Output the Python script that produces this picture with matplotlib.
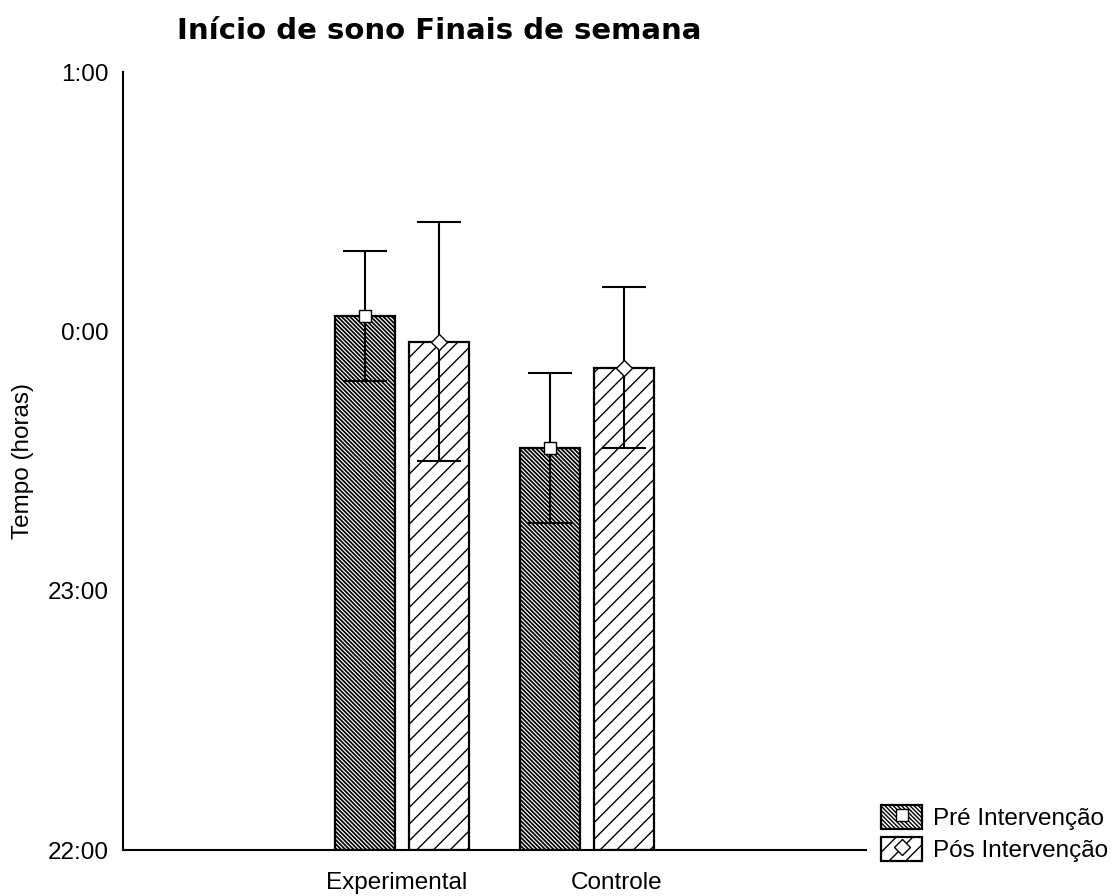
import matplotlib
matplotlib.use("Agg")
import matplotlib.pyplot as plt
from matplotlib.ticker import FuncFormatter

# Sleep onset on weekends (clock hours; 24 = midnight)
groups = ["Experimental", "Controle"]
series = ["Pré Intervenção", "Pós Intervenção"]
pre_mean = [24.06, 23.55]
pre_sd = [0.25, 0.29]
pos_mean = [23.96, 23.86]
pos_sd = [0.46, 0.31]
y_ticks = [22, 23, 24, 25]

plt.rcParams["font.family"] = ["Liberation Sans", "DejaVu Sans"]
plt.rcParams["hatch.linewidth"] = 1.0
plt.rcParams["hatch.color"] = "black"

FS = 17.5
W, H = 1118, 896
fig = plt.figure(figsize=(W / 100, H / 100), dpi=100)
ax = fig.add_axes([123 / W, 1 - 850 / H, (866 - 123) / W, (850 - 72) / H])

base = y_ticks[0]
xpos = [1, 2]
off = 0.199
bw = 0.323
x_pre = [x - off for x in xpos]
x_pos = [x + off for x in xpos]

with plt.rc_context({"hatch.linewidth": 1.25}):
    bars_pre = ax.bar(x_pre, [m - base for m in pre_mean], bottom=base, width=bw,
                      color="white", edgecolor="black", linewidth=1.6,
                      hatch="\\\\\\\\\\\\\\\\", zorder=2)
bars_pos = ax.bar(x_pos, [m - base for m in pos_mean], bottom=base, width=bw,
                  color="white", edgecolor="black", linewidth=1.6,
                  hatch="//", zorder=2)

for xs, m, s in [(x_pre, pre_mean, pre_sd), (x_pos, pos_mean, pos_sd)]:
    ax.errorbar(xs, m, yerr=s, fmt="none", ecolor="black", elinewidth=1.5,
                capsize=15.5, capthick=1.5, zorder=3)

mk_pre, = ax.plot(x_pre, pre_mean, ls="none", marker="s", ms=8, mfc="white",
                  mec="black", mew=1.0, zorder=4)
mk_pos, = ax.plot(x_pos, pos_mean, ls="none", marker="D", ms=8, mfc="white",
                  mec="black", mew=1.0, zorder=4)

ax.set_xlim(-0.5, 3.5)
ax.set_ylim(y_ticks[0], y_ticks[-1])
ax.set_yticks(y_ticks)
ax.yaxis.set_major_formatter(FuncFormatter(lambda v, p: f"{int(round(v)) % 24}:00"))
ax.tick_params(axis="y", length=0, pad=10, labelsize=FS)
ax.set_xticks([0.975, 2.157])
ax.set_xticklabels(groups)
ax.tick_params(axis="x", length=0, pad=16, labelsize=FS)

for side in ("top", "right"):
    ax.spines[side].set_visible(False)
for side in ("left", "bottom"):
    ax.spines[side].set_linewidth(1.5)

fig.text(23 / W, 0.5 * ((1 - 850 / H) + (1 - 72 / H)), "Tempo (horas)",
         rotation=90, ha="center", va="center", fontsize=FS)

fig.text(439 / W, 1 - 31 / H, "Início de sono Finais de semana",
         ha="center", va="center", fontsize=21, fontweight="bold",
         fontfamily=["DejaVu Sans"])

ax.legend([(bars_pre[0], mk_pre), (bars_pos[0], mk_pos)], series,
          loc="upper left", bbox_to_anchor=(881 / W, 1 - 805 / H),
          bbox_transform=fig.transFigure, frameon=False, fontsize=FS,
          handlelength=1.69, handleheight=1.15, handletextpad=0.45,
          labelspacing=0.28, borderpad=0, borderaxespad=0)

fig.savefig("out.png", dpi=100)
